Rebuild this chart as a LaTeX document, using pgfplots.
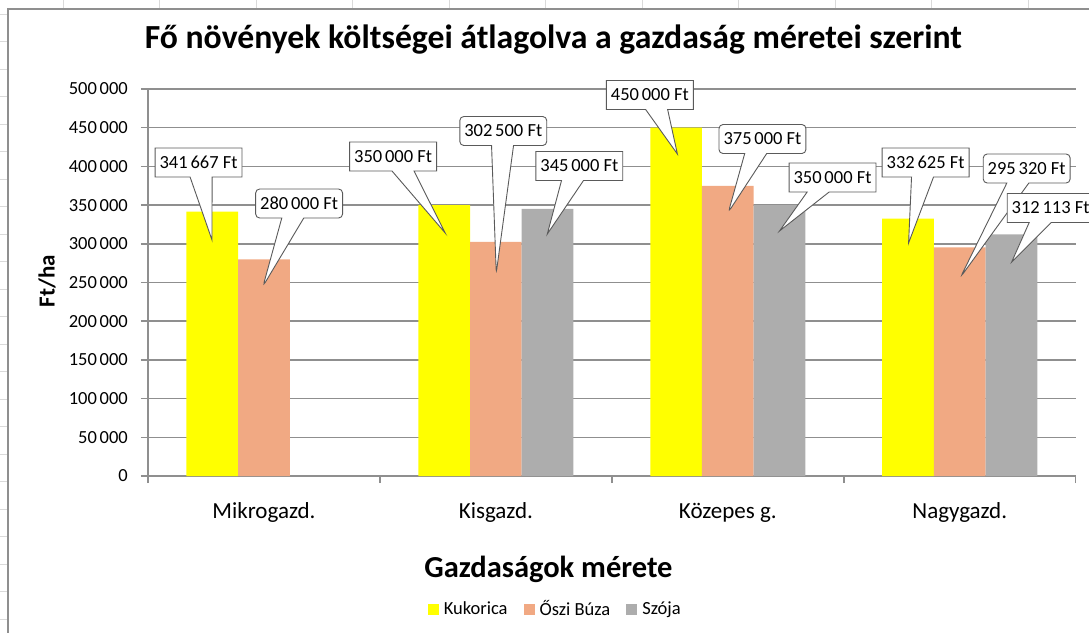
\documentclass[border=0pt]{standalone}
\usepackage{fontspec}
\setmainfont{Carlito}
\usepackage{pgfplots}
\pgfplotsset{compat=1.18}
\usetikzlibrary{shapes.callouts}
\definecolor{kuk}{HTML}{FFFF00}
\definecolor{buza}{HTML}{F1A983}
\definecolor{szoja}{HTML}{ADADAD}
\definecolor{gridg}{HTML}{8F8F8F}
\definecolor{xlgrid}{HTML}{DADADA}
\definecolor{cborder}{HTML}{5A5A5A}
\newcommand{\ts}{\hspace{0.15em}}
\tikzset{lab/.style={rectangle callout, draw=cborder, line width=0.9pt, fill=white,
    font=\fontsize{18.5}{20}\selectfont, inner xsep=4.5pt, minimum height=29pt,
    callout pointer width=22pt}}
\pgfplotsset{sq/.style={legend image code/.code={\fill[##1] (0pt,-5.5pt) rectangle (11pt,5.5pt); \path (14pt,0pt);}}}
\begin{document}
\begin{tikzpicture}
\path[use as bounding box] (0pt,0pt) rectangle (1089pt,-632pt);
\begin{scope}[x=1pt,y=-1pt]
  \foreach \xx in {63,159.5,...,1100} \draw[xlgrid,line width=1pt] (\xx,0) -- (\xx,9);
  \foreach \yy in {14.2,41.7,...,640} \draw[xlgrid,line width=1pt] (0,\yy) -- (7.5,\yy);
  \draw[gridg, line width=2pt] (7.5,640) -- (7.5,9.3) -- (1095,9.3);
\end{scope}
\begin{axis}[
  at={(148pt,-476pt)}, anchor=south west,
  scale only axis, width=927.7pt, height=387pt,
  xmin=-0.5, xmax=3.5, ymin=0, ymax=500000,
  enlargelimits=false, clip=false,
  ybar=0pt, bar width=0.2229,
  axis lines*=left,
  axis line style={draw=gridg, line width=1.5pt},
  ymajorgrids, grid style={draw=gridg, line width=1.5pt},
  tick align=outside, major tick length=7pt,
  tick style={draw=gridg, line width=1.5pt},
  scaled y ticks=false,
  ytick={0,50000,100000,150000,200000,250000,300000,350000,400000,450000,500000},
  yticklabels={0,50\ts000,100\ts000,150\ts000,200\ts000,250\ts000,300\ts000,350\ts000,400\ts000,450\ts000,500\ts000},
  yticklabel style={anchor=east, inner sep=0pt, xshift=-13pt,
    font=\fontsize{18.5}{20}\selectfont},
  xtick={-0.5,0.5,1.5,2.5,3.5}, xticklabels={,,,,},
  extra x ticks={0,1,2,3},
  extra x tick labels={Mikrogazd., Kisgazd., Közepes g., Nagygazd.},
  extra x tick style={major tick length=0pt},
  xticklabel style={anchor=base, yshift=-42pt, font=\fontsize{23}{27}\selectfont},
  title={Fő növények költségei átlagolva a gazdaság méretei szerint},
  title style={at={(axis description cs:0.437,1.0879)}, anchor=base, font=\bfseries\fontsize{33.7}{38}\selectfont},
  xlabel={Gazdaságok mérete},
  xlabel style={at={(axis description cs:0.4317,-0.261)}, anchor=base, font=\bfseries\fontsize{30.5}{34}\selectfont},
  ylabel={Ft/ha},
  ylabel style={at={(axis description cs:-0.1089,0.504)}, anchor=center, font=\bfseries\fontsize{23}{26}\selectfont},
  legend columns=3,
  legend style={at={(axis description cs:0.439,-0.3437)}, anchor=center, draw=none,
    font=\fontsize{18.5}{20}\selectfont, inner xsep=0pt,
    /tikz/every even column/.append style={column sep=14pt}},
]
\addplot[fill=kuk, draw=none, sq] coordinates {(0,341667) (1,350000) (2,450000) (3,332625)};
\addplot[fill=buza, draw=none, sq] coordinates {(0,280000) (1,302500) (2,375000) (3,295320)};
\addplot[fill=szoja, draw=none, sq] coordinates {(1,345000) (2,350000) (3,312113)};
\legend{Kukorica, Őszi Búza, Szója}
% Kukorica
\node[lab, callout absolute pointer={(axis cs:-0.224,304910)}] at (axis cs:-0.282,405040) {341\ts667 Ft};
\node[lab, callout absolute pointer={(axis cs:0.7816,313960)}] at (axis cs:0.557,412790) {350\ts000 Ft};
\node[lab, callout absolute pointer={(axis cs:1.7826,416020)}] at (axis cs:1.664,492250) {450\ts000 Ft};
\node[lab, callout absolute pointer={(axis cs:2.7794,301040)}] at (axis cs:2.8528,405040) {332\ts625 Ft};
% Oszi buza
\node[lab, rounded corners=4pt, callout absolute pointer={(axis cs:-0.0038,245480)}] at (axis cs:0.1516,352070) {280\ts000 Ft};
\node[lab, rounded corners=4pt, callout absolute pointer={(axis cs:1.0016,262280)}] at (axis cs:1.0318,445740) {302\ts500 Ft};
\node[lab, rounded corners=4pt, callout absolute pointer={(axis cs:2.0027,341090)}] at (axis cs:2.1494,435400) {375\ts000 Ft};
\node[lab, rounded corners=4pt, callout absolute pointer={(axis cs:3.0038,257110)}] at (axis cs:3.2886,397290) {295\ts320 Ft};
% Szoja
\node[lab, callout absolute pointer={(axis cs:1.2217,312660)}] at (axis cs:1.3598,400520) {345\ts000 Ft};
\node[lab, callout absolute pointer={(axis cs:2.2228,316540)}] at (axis cs:2.4515,385660) {350\ts000 Ft};
\node[lab, callout absolute pointer={(axis cs:3.2239,276490)}] at (axis cs:3.392,346260) {312\ts113 Ft};
\end{axis}
\end{tikzpicture}
\end{document}
